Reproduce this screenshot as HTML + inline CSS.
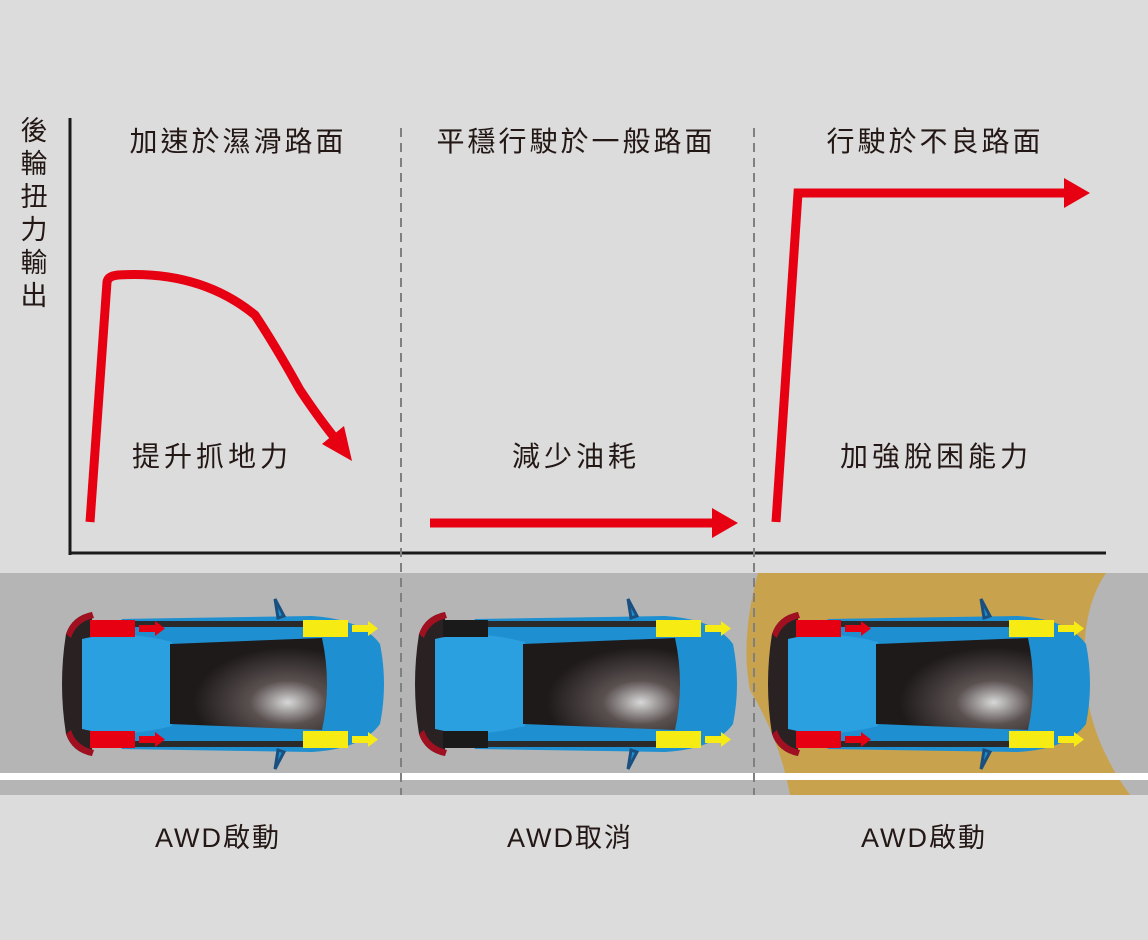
<!DOCTYPE html>
<html><head><meta charset="utf-8"><style>
html,body{margin:0;padding:0;background:#dcdcdc}
svg{display:block}
text{font-family:"Liberation Sans","Noto Sans CJK TC",sans-serif;fill:#231815}
</style></head><body>
<svg width="1148" height="940" viewBox="0 0 1148 940" xmlns="http://www.w3.org/2000/svg">
<defs>
<radialGradient id="roof" cx="0.75" cy="0.7" r="0.6">
<stop offset="0" stop-color="#d8d8d8"/><stop offset="0.4" stop-color="#5a5050"/><stop offset="1" stop-color="#1e1a1a"/></radialGradient>
<g id="car">
<path d="M10,20 Q5,0 60,-65 L250,-68 Q300,-65 318,-40 Q326,0 318,40 Q300,65 250,68 L60,65 Q5,0 10,-20Z" fill="#1e8fd0"/>
<path d="M4,-50 Q-4,0 4,50 Q10,68 30,72 L30,-72 Q10,-68 4,-50Z" fill="#2a2222"/>
<path d="M4,-50 Q10,-68 30,-72 L32,-66 Q14,-62 9,-46Z" fill="#a01020"/>
<path d="M4,50 Q10,68 30,72 L32,66 Q14,62 9,46Z" fill="#a01020"/>
<path d="M20,-45 Q60,-55 110,-42 L110,42 Q60,55 20,45Z" fill="#2aa0e0"/>
<path d="M108,-40 L260,-46 Q270,0 260,46 L108,40Z" fill="url(#roof)"/>
<path d="M38,-63 L250,-63 L250,-57 L38,-57Z" fill="#2a2a2a"/>
<path d="M38,57 L250,57 L250,63 L38,63Z" fill="#2a2a2a"/>
<path d="M213,-85 L222,-68 L216,-66 Z M213,85 L222,68 L216,66Z" fill="#1e8fd0" stroke="#1a5080" stroke-width="3"/>
</g>
<g id="rw">
<rect x="0" y="0" width="45" height="17" fill="#e60012"/>
<path d="M49,5 L65,5 L65,1 L75,8.5 L65,16 L65,12 L49,12Z" fill="#e60012"/>
</g>
<g id="yw">
<rect x="0" y="0" width="45" height="17" fill="#f6ec14"/>
<path d="M49,5 L65,5 L65,1 L75,8.5 L65,16 L65,12 L49,12Z" fill="#f6ec14"/>
</g>
<g id="bw"><rect x="0" y="0" width="45" height="17" fill="#1a1a1a"/></g>
</defs>

<rect x="0" y="573" width="1148" height="222" fill="#b5b5b5"/>
<path d="M758,573 L1106,573 Q1080,610 1085,680 Q1090,740 1130,795 L790,795 Q780,740 750,690 Q740,640 758,573Z" fill="#c9a24e"/>
<rect x="0" y="773" width="1148" height="7" fill="#ffffff"/>

<line x1="70" y1="118" x2="70" y2="555" stroke="#1a1a1a" stroke-width="3"/>
<line x1="69" y1="553" x2="1106" y2="553" stroke="#1a1a1a" stroke-width="3"/>
<line x1="401" y1="128" x2="401" y2="795" stroke="#808080" stroke-width="2" stroke-dasharray="9,6"/>
<line x1="754" y1="128" x2="754" y2="795" stroke="#808080" stroke-width="2" stroke-dasharray="9,6"/>

<path d="M90,522 L107,282 Q108,276 118,275 Q200,270 255,315 Q275,345 300,390 Q320,420 338,442" fill="none" stroke="#e60012" stroke-width="9"/>
<path d="M352,461 L322,444 L344,426Z" fill="#e60012"/>
<line x1="430" y1="523" x2="714" y2="523" stroke="#e60012" stroke-width="9"/>
<path d="M738,523 L712,508 L712,538Z" fill="#e60012"/>
<path d="M776,522 L798,193 L1068,193" fill="none" stroke="#e60012" stroke-width="9"/>
<path d="M1090,193 L1064,178 L1064,208Z" fill="#e60012"/>

<text font-size="27" x="34" y="140" text-anchor="middle">後</text>
<text font-size="27" x="34" y="173" text-anchor="middle">輪</text>
<text font-size="27" x="34" y="206" text-anchor="middle">扭</text>
<text font-size="27" x="34" y="239" text-anchor="middle">力</text>
<text font-size="27" x="34" y="272" text-anchor="middle">輸</text>
<text font-size="27" x="34" y="305" text-anchor="middle">出</text>
<text font-size="28" x="238" y="151" text-anchor="middle" letter-spacing="3">加速於濕滑路面</text>
<text font-size="28" x="576" y="151" text-anchor="middle" letter-spacing="3">平穩行駛於一般路面</text>
<text font-size="28" x="935" y="151" text-anchor="middle" letter-spacing="3">行駛於不良路面</text>
<text font-size="28" x="212" y="466" text-anchor="middle" letter-spacing="4">提升抓地力</text>
<text font-size="28" x="576" y="466" text-anchor="middle" letter-spacing="4">減少油耗</text>
<text font-size="28" x="936" y="466" text-anchor="middle" letter-spacing="4">加強脫困能力</text>
<text font-size="27" x="218" y="847" text-anchor="middle" letter-spacing="2">AWD啟動</text>
<text font-size="27" x="570" y="847" text-anchor="middle" letter-spacing="2">AWD取消</text>
<text font-size="27" x="924" y="847" text-anchor="middle" letter-spacing="2">AWD啟動</text>

<use href="#car" x="62" y="684"/>
<use href="#rw" x="90" y="620"/><use href="#rw" x="90" y="731"/>
<use href="#yw" x="303" y="620"/><use href="#yw" x="303" y="731"/>

<use href="#car" x="415" y="684"/>
<use href="#bw" x="443" y="620"/><use href="#bw" x="443" y="731"/>
<use href="#yw" x="656" y="620"/><use href="#yw" x="656" y="731"/>

<use href="#car" x="768" y="684"/>
<use href="#rw" x="796" y="620"/><use href="#rw" x="796" y="731"/>
<use href="#yw" x="1009" y="620"/><use href="#yw" x="1009" y="731"/>
</svg>
</body></html>
